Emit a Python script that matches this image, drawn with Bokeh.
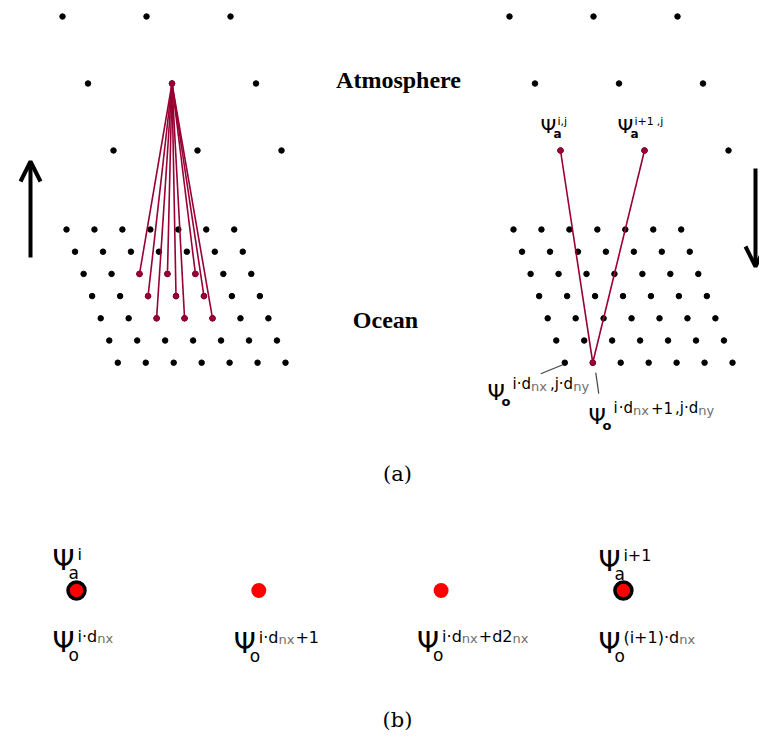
from bokeh.plotting import figure
from bokeh.models import Range1d, Arrow, OpenHead
from bokeh.core.properties import value
from bokeh.embed import file_html
from bokeh.resources import INLINE

# ---------------------------------------------------------------- grid data
atmos_cols = [0, 1, 2]
atmos_rows = [0, 1, 2]
ocean_cols = [0, 1, 2, 3, 4, 5, 6]
ocean_rows = [0, 1, 2, 3, 4, 5, 6]

# (a) left: one atmosphere node fed by a block of ocean nodes
fan_atmos = (1, 1)
fan_ocean_cols = [2, 3, 4]
fan_ocean_rows = [2, 3, 4]

# (a) right: one ocean node interpolated from two atmosphere nodes
interp_ocean = (1, 6)
interp_atmos_cols = [0, 1]
interp_atmos_row = 2

# (b) one-dimensional cut: nodes and whether they carry an atmosphere value
b_nodes = [0, 1, 2, 3]
b_is_atmos = [True, False, False, True]

# ---------------------------------------------------------------- layout
ATM_X0, ATM_Y0, ATM_DX, ATM_SKEW, ATM_DY = 62, 16, 84, 25.5, 67
OCN_X0, OCN_Y0, OCN_DX, OCN_SKEW, OCN_DY = 66, 229, 27.95, 8.55, 22.2
PANEL_SHIFT = 447
B_X0, B_DX, B_Y = 76, 182.3, 590

RED = "#990033"
BRIGHT_RED = "#ff0000"
GREY = "#6e6e6e"

# the text glyph places its alphabetic baseline a bit low; lift it by this share of the size
BASELINE_LIFT = 0.34


def atmos_xy(col, row, shift=0):
    return ATM_X0 + shift + ATM_DX * col + ATM_SKEW * row, ATM_Y0 + ATM_DY * row


def ocean_xy(col, row, shift=0):
    return OCN_X0 + shift + OCN_DX * col + OCN_SKEW * row, OCN_Y0 + OCN_DY * row


p = figure(width=759, height=736, x_range=Range1d(0, 759), y_range=Range1d(736, 0),
           output_backend="svg", toolbar_location=None, min_border=0)
p.xaxis.visible = False
p.yaxis.visible = False
p.grid.visible = False
p.outline_line_color = None
p.background_fill_color = "white"
p.border_fill_color = "white"

# ---------------------------------------------------------------- black grid dots
bx, by = [], []
for shift in (0, PANEL_SHIFT):
    for r in atmos_rows:
        for c in atmos_cols:
            x, y = atmos_xy(c, r, shift)
            bx.append(x)
            by.append(y)
    for r in ocean_rows:
        for c in ocean_cols:
            x, y = ocean_xy(c, r, shift)
            bx.append(x)
            by.append(y)
p.scatter(bx, by, size=5.5, color="black")

# ---------------------------------------------------------------- red links
ax, ay = atmos_xy(*fan_atmos)
fx, fy = [], []
for r in fan_ocean_rows:
    for c in fan_ocean_cols:
        x, y = ocean_xy(c, r)
        fx.append(x)
        fy.append(y)
p.segment([ax] * len(fx), [ay] * len(fy), fx, fy, color=RED, line_width=1.6)

ox, oy = ocean_xy(*interp_ocean, PANEL_SHIFT)
ix, iy = [], []
for c in interp_atmos_cols:
    x, y = atmos_xy(c, interp_atmos_row, PANEL_SHIFT)
    ix.append(x)
    iy.append(y)
p.segment([ox] * len(ix), [oy] * len(iy), ix, iy, color=RED, line_width=1.6)

p.scatter(fx + [ax] + ix + [ox], fy + [ay] + iy + [oy], size=5.5, color=RED)

# leader lines for the ocean labels
lx0, ly0 = ocean_xy(0, 6, PANEL_SHIFT)
p.segment([lx0 - 24, ox + 3], [ly0 + 11, oy + 10], [lx0 - 2, ox + 6], [ly0 + 2, oy + 31],
          color="#444444", line_width=1.2)

# ---------------------------------------------------------------- arrows
p.add_layout(Arrow(end=OpenHead(size=20, line_width=4, line_color="black"),
                   x_start=30, y_start=257, x_end=30, y_end=161,
                   line_width=4, line_color="black"))
p.add_layout(Arrow(end=OpenHead(size=20, line_width=4, line_color="black"),
                   x_start=755, y_start=168, x_end=755, y_end=266,
                   line_width=4, line_color="black"))

# ---------------------------------------------------------------- (b) nodes
b_x = [B_X0 + B_DX * n for n in b_nodes]
atm_x = [x for x, a in zip(b_x, b_is_atmos) if a]
ocn_x = [x for x, a in zip(b_x, b_is_atmos) if not a]
p.scatter(atm_x, [B_Y] * len(atm_x), size=17, fill_color=BRIGHT_RED,
          line_color="black", line_width=3.5)
p.scatter(ocn_x, [B_Y] * len(ocn_x), size=15, fill_color=BRIGHT_RED, line_color=None)


# ---------------------------------------------------------------- text helpers
def put(x, y, txt, size, color="black", bold=False, font="DejaVu Sans", align="left"):
    p.text(x=[x], y=[y - BASELINE_LIFT * size], text=[txt], text_font=value(font),
           text_font_size=value(f"{size}px"),
           text_font_style="bold" if bold else "normal",
           text_color=color, text_align=align, text_baseline="alphabetic")


put(398, 88, "Atmosphere", 24, bold=True, font="Liberation Serif", align="center")
put(385, 328, "Ocean", 24, bold=True, font="Liberation Serif", align="center")
put(397, 481, "(a)", 21, font="DejaVu Serif", align="center")
put(397, 727, "(b)", 21, font="DejaVu Serif", align="center")

# ---------------------------------------------------------------- Ψ labels
WIDTH = {"i": 0.278, "j": 0.278, "·": 0.318, "d": 0.635, "n": 0.634, "x": 0.592,
         "y": 0.592, "+": 0.838, "1": 0.636, "2": 0.636, ",": 0.318, "(": 0.390,
         ")": 0.390}


def text_w(s, size):
    return sum(WIDTH.get(ch, 0.6) for ch in s) * size


def psi_label(x, base, sub, sup, psi_px, sub_px, sup_px, small_px,
              sub_dx, sub_dy, sup_dx, sup_dy, sub_bold=False):
    put(x, base, "Ψ", psi_px)
    put(x + sub_dx, base + sub_dy, sub, sub_px, bold=sub_bold)
    cx = x + sup_dx
    for txt, small, gap in sup:
        size = small_px if small else sup_px
        cx += gap
        put(cx, base + sup_dy + (1 if small else 0), txt, size,
            color=GREY if small else "black")
        cx += text_w(txt, size)


# panel (a)
top = dict(psi_px=20, sub_px=12, sup_px=11, small_px=10,
           sub_dx=13, sub_dy=6, sup_dx=17, sup_dy=-7, sub_bold=True)
psi_label(540, 132, "a", [("i,j", 0, 0)], **top)
psi_label(617, 132, "a", [("i+1", 0, 0), (",j", 0, 3)], **top)

low = dict(psi_px=22, sub_px=13, sup_px=15, small_px=13,
           sub_dx=14, sub_dy=6, sup_dx=25, sup_dy=-10, sub_bold=True)
psi_label(487, 399, "o", [("i·d", 0, 0), ("nx", 1, 0), (",j·d", 0, 3), ("ny", 1, 0)], **low)
psi_label(588, 423, "o", [("i", 0, 0), ("·d", 0, 1), ("nx", 1, 0), ("+1", 0, 2),
                          (",j·d", 0, 2), ("ny", 1, 0)], **low)

# panel (b)
big = dict(psi_px=28, sub_px=17, sup_px=16, small_px=13,
           sub_dx=16, sub_dy=8, sup_dx=25, sup_dy=-11)
psi_label(b_x[0] - 24, 570, "a", [("i", 0, 0)], **big)
psi_label(b_x[3] - 25, 571, "a", [("i+1", 0, 0)], **big)
psi_label(b_x[0] - 24, 652, "o", [("i·d", 0, 0), ("nx", 1, 0)], **big)
psi_label(b_x[1] - 25, 653, "o", [("i·d", 0, 0), ("nx", 1, 0), ("+1", 0, 1)], **big)
psi_label(b_x[2] - 24, 652, "o", [("i·d", 0, 0), ("nx", 1, 0), ("+d2", 0, 1), ("nx", 1, 0)], **big)
psi_label(b_x[3] - 25, 653, "o", [("(i+1)·d", 0, 0), ("nx", 1, 0)], **big)

open("out.html", "w").write(file_html(p, INLINE))
